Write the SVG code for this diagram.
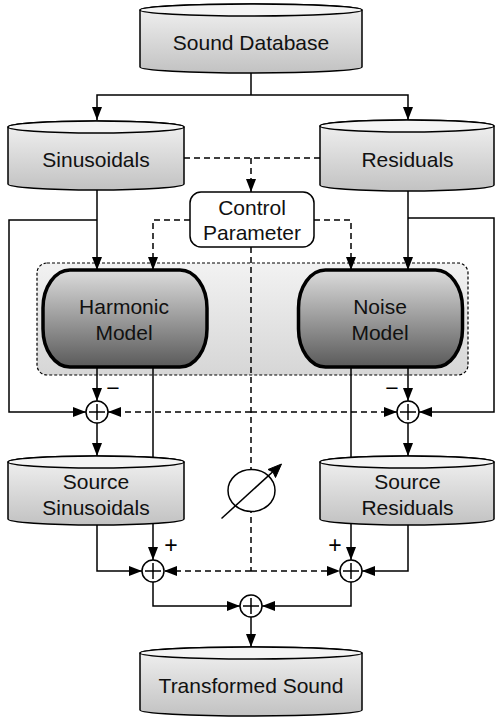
<svg xmlns="http://www.w3.org/2000/svg" width="495" height="719" viewBox="0 0 495 719">
<style>
.cyl{fill:url(#gCyl);stroke:#000;stroke-width:1.5}
.cylTop{fill:#f4f4f4;stroke:#000;stroke-width:1.5}
.lbl{font-family:"Liberation Sans",Arial,sans-serif;font-size:21px;fill:#111;text-anchor:middle}
.sign{font-family:"Liberation Sans",Arial,sans-serif;font-size:23px;fill:#000;text-anchor:middle}
.ln{fill:none;stroke:#000;stroke-width:1.5}
.dash{fill:none;stroke:#000;stroke-width:1.5;stroke-dasharray:6 4}
.model{fill:url(#gModel);stroke:#000;stroke-width:3.5}
.sum{fill:#fff;stroke:#000;stroke-width:1.5}
</style>
<defs>
<linearGradient id="gCyl" x1="0" y1="0" x2="0" y2="1">
<stop offset="0" stop-color="#f2f2f2"/>
<stop offset="1" stop-color="#c2c2c2"/>
</linearGradient>
<linearGradient id="gModel" x1="0" y1="0" x2="0" y2="1">
<stop offset="0" stop-color="#dcdcdc"/>
<stop offset="1" stop-color="#5a5a5a"/>
</linearGradient>
<linearGradient id="gGroup" x1="0" y1="0" x2="0" y2="1">
<stop offset="0" stop-color="#f2f2f2"/>
<stop offset="1" stop-color="#d6d6d6"/>
</linearGradient>
<marker id="arr" viewBox="0 0 13 10" refX="13" refY="5" markerWidth="13" markerHeight="10" markerUnits="userSpaceOnUse" orient="auto">
<path d="M0,0 L13,5 L0,10 Z" fill="#000"/>
</marker>
</defs>

<g id="group-box">
<rect x="37" y="263" width="431" height="112" rx="10" ry="10" fill="url(#gGroup)" stroke="#000" stroke-width="1.2" stroke-dasharray="3 2"/>
</g>

<g id="connectors">
<path class="ln" d="M251,73 V95"/>
<path class="ln" d="M251,95 H97 V120" marker-end="url(#arr)"/>
<path class="ln" d="M251,95 H408 V120" marker-end="url(#arr)"/>
<path class="dash" d="M184,158 H320"/>
<path class="dash" d="M251,158 V192" marker-end="url(#arr)"/>
<path class="dash" d="M190,220 H153 V270" marker-end="url(#arr)"/>
<path class="dash" d="M314,220 H351 V270" marker-end="url(#arr)"/>
<path class="ln" d="M97,190 V270" marker-end="url(#arr)"/>
<path class="ln" d="M408,191 V270" marker-end="url(#arr)"/>
<path class="ln" d="M97,220 H9 V412 H86" marker-end="url(#arr)"/>
<path class="ln" d="M408,218 H494 V412 H419" marker-end="url(#arr)"/>
<path class="ln" d="M97,367 V401" marker-end="url(#arr)"/>
<path class="ln" d="M408,367 V401" marker-end="url(#arr)"/>
<path class="dash" d="M251,247 V571"/>
<path class="dash" d="M251,412 H108" marker-end="url(#arr)"/>
<path class="dash" d="M251,412 H397" marker-end="url(#arr)"/>
<path class="ln" d="M153,367 V560" marker-end="url(#arr)"/>
<path class="ln" d="M351,367 V560" marker-end="url(#arr)"/>
<path class="ln" d="M97,423 V456" marker-end="url(#arr)"/>
<path class="ln" d="M408,423 V456" marker-end="url(#arr)"/>
<path class="ln" d="M97,524 V571 H142" marker-end="url(#arr)"/>
<path class="ln" d="M408,524 V571 H362" marker-end="url(#arr)"/>
<path class="dash" d="M251,571 H164" marker-end="url(#arr)"/>
<path class="dash" d="M251,571 H340" marker-end="url(#arr)"/>
<path class="ln" d="M153,582 V606 H240" marker-end="url(#arr)"/>
<path class="ln" d="M351,582 V606 H262" marker-end="url(#arr)"/>
<path class="ln" d="M251,617 V647" marker-end="url(#arr)"/>
</g>

<g id="sound-database">
<path class="cyl" d="M140,10 A111,6 0 0 1 362,10 V67 A111,6 0 0 1 140,67 Z"/>
<ellipse class="cylTop" cx="251" cy="10" rx="111" ry="6"/>
<text class="lbl" x="251" y="50">Sound Database</text>
</g>

<g id="sinusoidals">
<path class="cyl" d="M8,127 A88,6 0 0 1 184,127 V184 A88,6 0 0 1 8,184 Z"/>
<ellipse class="cylTop" cx="96" cy="127" rx="88" ry="6"/>
<text class="lbl" x="96" y="167">Sinusoidals</text>
</g>

<g id="residuals">
<path class="cyl" d="M320,126 A87,6 0 0 1 494,126 V185 A87,6 0 0 1 320,185 Z"/>
<ellipse class="cylTop" cx="407" cy="126" rx="87" ry="6"/>
<text class="lbl" x="407.5" y="167">Residuals</text>
</g>

<g id="control-parameter">
<rect x="190" y="192" width="124" height="55" rx="11" ry="11" fill="#fff" stroke="#000" stroke-width="1.5"/>
<text class="lbl" x="252" y="215">Control</text>
<text class="lbl" x="252" y="240">Parameter</text>
</g>

<g id="harmonic-model">
<rect class="model" x="43" y="270" width="164" height="97" rx="27" ry="38"/>
<text class="lbl" x="124" y="314">Harmonic</text>
<text class="lbl" x="124" y="340">Model</text>
</g>

<g id="noise-model">
<rect class="model" x="298.5" y="270" width="164" height="97" rx="27" ry="38"/>
<text class="lbl" x="380" y="314">Noise</text>
<text class="lbl" x="380" y="340">Model</text>
</g>

<g id="sum-left">
<circle class="sum" cx="97" cy="412" r="11"/>
<path class="ln" d="M89,412 H105 M97,404 V420"/>
<text class="sign" x="113" y="396">−</text>
</g>

<g id="sum-right">
<circle class="sum" cx="408" cy="412" r="11"/>
<path class="ln" d="M400,412 H416 M408,404 V420"/>
<text class="sign" x="392" y="396">−</text>
</g>

<g id="source-sinusoidals">
<path class="cyl" d="M8,462 A88,6 0 0 1 184,462 V519 A88,6 0 0 1 8,519 Z"/>
<ellipse class="cylTop" cx="96" cy="462" rx="88" ry="6"/>
<text class="lbl" x="96" y="489">Source</text>
<text class="lbl" x="96" y="515">Sinusoidals</text>
</g>

<g id="source-residuals">
<path class="cyl" d="M320,462 A87,6 0 0 1 494,462 V519 A87,6 0 0 1 320,519 Z"/>
<ellipse class="cylTop" cx="407" cy="462" rx="87" ry="6"/>
<text class="lbl" x="407.5" y="489">Source</text>
<text class="lbl" x="407.5" y="515">Residuals</text>
</g>

<g id="variable">
<ellipse cx="251.5" cy="490.5" rx="23.5" ry="21" fill="#fff" stroke="#000" stroke-width="1.5"/>
<path class="ln" d="M221.5,518.5 L278,467"/>
<path d="M281.5,464 L268,469.5 L273,472 L275.5,477.5 Z" fill="#000" stroke="#000" stroke-width="1"/>
</g>

<g id="sum-bottom-left">
<circle class="sum" cx="153" cy="571" r="11"/>
<path class="ln" d="M145,571 H161 M153,563 V579"/>
<text class="sign" x="171" y="553">+</text>
</g>

<g id="sum-bottom-right">
<circle class="sum" cx="351" cy="571" r="11"/>
<path class="ln" d="M343,571 H359 M351,563 V579"/>
<text class="sign" x="335" y="553">+</text>
</g>

<g id="sum-final">
<circle class="sum" cx="251" cy="606" r="11"/>
<path class="ln" d="M243,606 H259 M251,598 V614"/>
</g>

<g id="transformed-sound">
<path class="cyl" d="M140,653 A111,6 0 0 1 362,653 V710 A111,6 0 0 1 140,710 Z"/>
<ellipse class="cylTop" cx="251" cy="653" rx="111" ry="6"/>
<text class="lbl" x="251" y="693">Transformed Sound</text>
</g>
</svg>
